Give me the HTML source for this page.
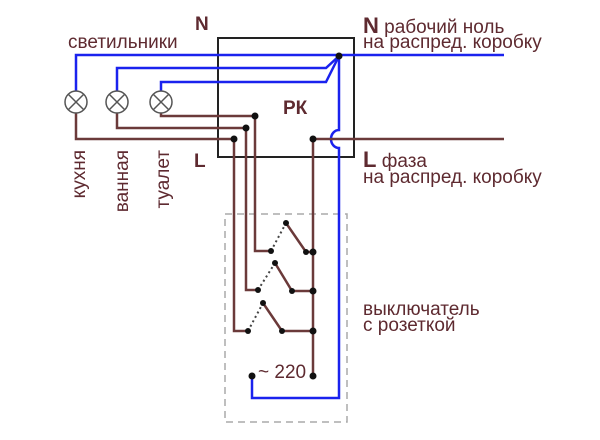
<!DOCTYPE html>
<html><head><meta charset="utf-8"><style>
html,body{margin:0;padding:0;background:#fff;}
svg{display:block;}
text{font-family:"Liberation Sans",sans-serif;fill:#5e2a30;font-size:19px;}
</style></head><body>
<svg width="600" height="440" viewBox="0 0 600 440">
<g fill="none" stroke-width="2.5">
<rect x="218" y="38" width="136" height="119" stroke="#222" stroke-width="2"/>
<rect x="225" y="214" width="122" height="208" stroke="#aaa" stroke-width="1.5" stroke-dasharray="7,5"/>
<polyline points="76,91 76,55 504,55" stroke="#1a22ee"/>
<polyline points="117,91 117,68 326,68 339,56" stroke="#1a22ee"/>
<polyline points="161,91 161,82 326,82 339,56" stroke="#1a22ee"/>
<path d="M339,56 V130 A8,9 0 0 0 339,148 V398 H252 V376" stroke="#1a22ee"/>
<g stroke="#6b3a3a">
<polyline points="161,113 161,116 255,116 255,251 271,251"/>
<polyline points="117,113 117,128 246,128 246,290 258,290"/>
<polyline points="76,113 76,139 234,139 234,331 248,331"/>
<polyline points="313,139 504,139"/>
<polyline points="313,139 313,376"/>
<polyline points="286,223 306,252 313,252"/>
<polyline points="275,263 292,291 313,291"/>
<polyline points="263,303 282,331 313,331"/>
</g>
<g stroke="#444" stroke-dasharray="2,3" stroke-width="2">
<line x1="271" y1="251" x2="286" y2="223"/>
<line x1="258" y1="290" x2="275" y2="263"/>
<line x1="248" y1="331" x2="263" y2="303"/>
</g>
<g stroke="#555" stroke-width="1.5" fill="#fff">
<circle cx="76" cy="102" r="11"/><circle cx="117" cy="102" r="11"/><circle cx="161" cy="102" r="11"/>
</g>
<g stroke="#555" stroke-width="1.5">
<path d="M68,94 L84,110 M84,94 L68,110"/>
<path d="M109,94 L125,110 M125,94 L109,110"/>
<path d="M153,94 L169,110 M169,94 L153,110"/>
</g>
</g>
<g fill="#111">
<circle cx="339" cy="56" r="3.5"/>
<circle cx="255" cy="116" r="3.5"/><circle cx="246" cy="128" r="3.5"/><circle cx="234" cy="139" r="3.5"/><circle cx="313" cy="139" r="3.5"/>
<circle cx="271" cy="251" r="3"/><circle cx="286" cy="223" r="3"/><circle cx="306" cy="252" r="3"/><circle cx="313" cy="252" r="3.5"/>
<circle cx="258" cy="290" r="3"/><circle cx="275" cy="263" r="3"/><circle cx="292" cy="291" r="3"/><circle cx="313" cy="291" r="3.5"/>
<circle cx="248" cy="331" r="3"/><circle cx="263" cy="303" r="3"/><circle cx="282" cy="331" r="3"/><circle cx="313" cy="331" r="3.5"/>
<circle cx="313" cy="376" r="3.5"/><circle cx="252" cy="376" r="3.5"/>
</g>
<text x="195" y="30" font-weight="bold" font-size="21">N</text>
<text x="68" y="48">светильники</text>
<text x="283" y="114" font-weight="bold" font-size="22">РК</text>
<text x="194" y="167" font-weight="bold" font-size="21">L</text>
<text x="363" y="33"><tspan font-weight="bold" font-size="22">N</tspan> рабочий ноль</text>
<text x="363" y="48">на распред. коробку</text>
<text x="363" y="167"><tspan font-weight="bold" font-size="22">L</tspan> фаза</text>
<text x="363" y="183">на распред. коробку</text>
<text transform="translate(85,150) rotate(-90)" text-anchor="end" font-size="19">кухня</text>
<text transform="translate(128,150) rotate(-90)" text-anchor="end" font-size="19">ванная</text>
<text transform="translate(169,150) rotate(-90)" text-anchor="end" font-size="19">туалет</text>
<text x="258" y="378" font-size="18">~ 220</text>
<text x="363" y="315">выключатель</text>
<text x="363" y="331">с розеткой</text>
</svg>
</body></html>
